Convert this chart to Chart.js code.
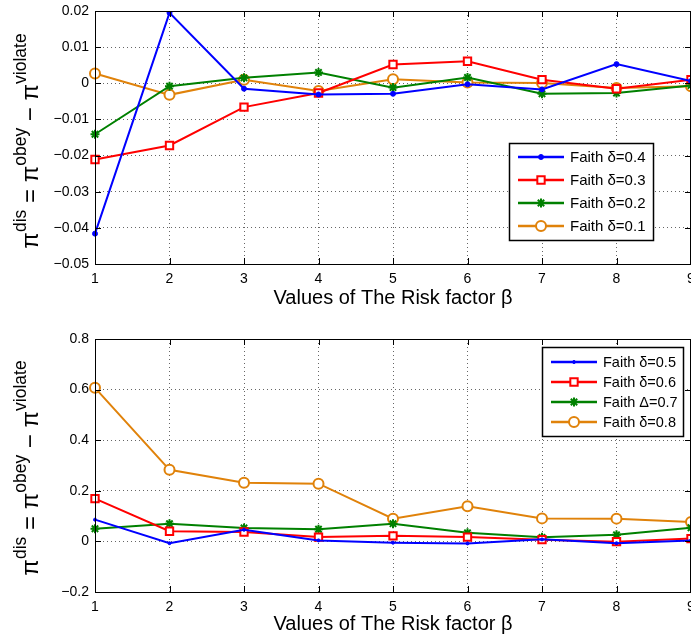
<!DOCTYPE html>
<html>
<head>
<meta charset="utf-8">
<script src="https://cdn.jsdelivr.net/npm/chart.js@4"></script>
<style>
  body { margin: 0; background: #fff; overflow: hidden; }
  canvas { display: block; }
</style>
</head>
<body>
<canvas id="topChart" width="691" height="321"></canvas>
<canvas id="bottomChart" width="691" height="322"></canvas>
<script>
const riskFactor = [1, 2, 3, 4, 5, 6, 7, 8, 9];

// top panel
const faith04 = [-0.0416, 0.0195, -0.0015, -0.0031, -0.0029, -0.0003, -0.0017, 0.0053, 0.0006];
const faith03 = [-0.0211, -0.0172, -0.0066, -0.0027, 0.0052, 0.0061, 0.0010, -0.0015, 0.0010];
const faith02 = [-0.0141, -0.0008, 0.0015, 0.0030, -0.0012, 0.0016, -0.0029, -0.0027, -0.0006];
const faith01 = [0.0027, -0.0032, 0.0010, -0.0021, 0.0011, 0.0002, 0.0001, -0.0013, -0.0008];

// bottom panel
const faith05 = [0.086, -0.007, 0.046, 0.004, -0.005, -0.008, 0.008, -0.007, 0.004];
const faith06 = [0.169, 0.040, 0.037, 0.017, 0.022, 0.017, 0.007, -0.001, 0.011];
const faith07 = [0.050, 0.070, 0.053, 0.048, 0.070, 0.034, 0.016, 0.026, 0.054];
const faith08 = [0.607, 0.283, 0.232, 0.228, 0.090, 0.139, 0.091, 0.090, 0.077];

const topLabels = ['Faith δ=0.4', 'Faith δ=0.3', 'Faith δ=0.2', 'Faith δ=0.1'];
const bottomLabels = ['Faith δ=0.5', 'Faith δ=0.6', 'Faith Δ=0.7', 'Faith δ=0.8'];

const FONT = "'Liberation Sans', Arial, sans-serif";
const BLUE = '#0000ff', RED = '#ff0000', GREEN = '#008000', ORANGE = '#e0820a';

Chart.defaults.font.family = FONT;
Chart.defaults.color = '#000';

function makeSets(labels, values, dotRadius) {
  const styles = [
    { color: BLUE, pointStyle: 'circle', pointRadius: dotRadius, bg: BLUE, bw: 1 },
    { color: RED, pointStyle: 'rect', pointRadius: 5.2, bg: '#fff', bw: 2 },
    { color: GREEN, pointStyle: 'star', pointRadius: 4.5, bg: GREEN, bw: 2 },
    { color: ORANGE, pointStyle: 'circle', pointRadius: 5, bg: '#fff', bw: 2 },
  ];
  return values.map((v, i) => ({
    label: labels[i],
    data: v,
    borderColor: styles[i].color,
    backgroundColor: styles[i].color,
    borderWidth: 2,
    pointStyle: styles[i].pointStyle,
    pointRadius: styles[i].pointRadius,
    pointBackgroundColor: styles[i].bg,
    pointBorderColor: styles[i].color,
    pointBorderWidth: styles[i].bw,
    fill: false,
    tension: 0,
  }));
}

// box around the plot, inward ticks, y title with superscripts, legend
const matlabLook = {
  id: 'matlabLook',
  afterDraw(chart, args, opts) {
    const ctx = chart.ctx;
    const a = chart.chartArea;
    const xs = chart.scales.x, ys = chart.scales.y;
    ctx.save();
    ctx.strokeStyle = '#000';
    ctx.lineWidth = 1;
    ctx.strokeRect(Math.round(a.left) + 0.5, Math.round(a.top) + 0.5,
      Math.round(a.right - a.left) - 1, Math.round(a.bottom - a.top));
    ctx.beginPath();
    xs.ticks.forEach((t, i) => {
      const px = Math.round(xs.getPixelForTick(i)) + 0.5;
      ctx.moveTo(px, a.bottom); ctx.lineTo(px, a.bottom - 6);
      ctx.moveTo(px, a.top); ctx.lineTo(px, a.top + 6);
    });
    ys.ticks.forEach(t => {
      const py = Math.round(ys.getPixelForValue(t.value)) + 0.5;
      ctx.moveTo(a.left, py); ctx.lineTo(a.left + 6, py);
      ctx.moveTo(a.right, py); ctx.lineTo(a.right - 6, py);
    });
    ctx.stroke();

    // y title
    const parts = [
      ['π', false], ['dis', true], [' = ', false], ['π', false], ['obey', true],
      [' − ', false], ['π', false], ['violate', true],
    ];
    const mainFont = opts.titleSize + 'px ' + FONT;
    const supFont = opts.supSize + 'px ' + FONT;
    let total = 0;
    parts.forEach(p => { ctx.font = p[1] ? supFont : mainFont; total += ctx.measureText(p[0]).width; });
    ctx.translate(opts.titleX, opts.titleY);
    ctx.rotate(-Math.PI / 2);
    ctx.fillStyle = '#000';
    ctx.textBaseline = 'alphabetic';
    let x = -total / 2;
    parts.forEach(p => {
      ctx.font = p[1] ? supFont : mainFont;
      ctx.fillText(p[0], x, p[1] ? -opts.supShift : 0);
      x += ctx.measureText(p[0]).width;
    });
    ctx.restore();

    // legend
    const L = opts.legend;
    ctx.save();
    ctx.fillStyle = '#fff';
    ctx.fillRect(L.x, L.y, L.w, L.h);
    ctx.strokeStyle = '#000';
    ctx.lineWidth = 1.5;
    ctx.strokeRect(L.x + 0.5, L.y + 0.5, L.w, L.h);
    chart.data.datasets.forEach((ds, i) => {
      const y = L.y + L.first + i * L.step;
      ctx.strokeStyle = ds.borderColor;
      ctx.lineWidth = 2.5;
      ctx.beginPath();
      ctx.moveTo(L.x + 9, y); ctx.lineTo(L.x + 55, y);
      ctx.stroke();
      ctx.fillStyle = ds.pointBackgroundColor;
      ctx.strokeStyle = ds.pointBorderColor;
      ctx.lineWidth = ds.pointBorderWidth;
      Chart.helpers.drawPoint(ctx, { pointStyle: ds.pointStyle, radius: ds.pointRadius, rotation: 0, borderWidth: ds.pointBorderWidth }, L.x + 32, y);
      ctx.fillStyle = '#000';
      ctx.font = L.font + 'px ' + FONT;
      ctx.textBaseline = 'middle';
      ctx.fillText(ds.label, L.x + 61, y + 1);
    });
    ctx.restore();
  }
};

function buildChart(id, datasets, yMin, yMax, yStep, decimals, plotTop, axisHeight, titlePad, look) {
  return new Chart(document.getElementById(id), {
    type: 'line',
    data: { labels: riskFactor, datasets: datasets },
    options: {
      responsive: false,
      animation: false,
      devicePixelRatio: 1,
      layout: { autoPadding: false, padding: { top: plotTop, right: 0, bottom: 0, left: 0 } },
      plugins: {
        legend: { display: false },
        tooltip: { enabled: false },
        matlabLook: look,
      },
      scales: {
        x: {
          offset: false,
          grid: { color: 'rgba(0,0,0,0.6)', lineWidth: 1, drawTicks: false },
          border: { display: false, dash: [1, 3] },
          ticks: { font: { size: 14 }, padding: 7, maxRotation: 0, autoSkip: false },
          title: {
            display: true,
            text: 'Values of The Risk factor β',
            font: { size: 20 },
            padding: { top: 0, bottom: titlePad },
          },
          afterFit(scale) {
            scale.height = axisHeight;
            scale.paddingLeft = 0;
            scale.paddingRight = 0;
          },
        },
        y: {
          min: yMin,
          max: yMax,
          grid: { color: 'rgba(0,0,0,0.6)', lineWidth: 1, drawTicks: false },
          border: { display: false, dash: [1, 3] },
          ticks: {
            stepSize: yStep,
            font: { size: 14 },
            padding: 6,
            callback: v => {
              const r = Math.round(v / yStep) * yStep;
              if (Math.abs(r) < 1e-9) return '0';
              return r.toFixed(decimals).replace('-', '−');
            },
          },
          afterFit(scale) {
            scale.width = 95;
            scale.paddingTop = 0;
            scale.paddingBottom = 0;
          },
        },
      },
    },
    plugins: [matlabLook],
  });
}

const topChart = buildChart('topChart',
  makeSets(topLabels, [faith04, faith03, faith02, faith01], 2.5),
  -0.05, 0.02, 0.01, 2, 11, 57, 11,
  { titleX: 38, titleY: 141, titleSize: 24, supSize: 17.5, supShift: 12,
    legend: { x: 509, y: 143, w: 144, h: 97, first: 14, step: 23, font: 15 } });

const bottomChart = buildChart('bottomChart',
  makeSets(bottomLabels, [faith05, faith06, faith07, faith08], 1.5),
  -0.2, 0.8, 0.2, 1, 18, 51, 7,
  { titleX: 38, titleY: 147, titleSize: 24, supSize: 17.5, supShift: 12,
    legend: { x: 542, y: 26, w: 141, h: 89, first: 15, step: 20, font: 14.5 } });
</script>
</body>
</html>
